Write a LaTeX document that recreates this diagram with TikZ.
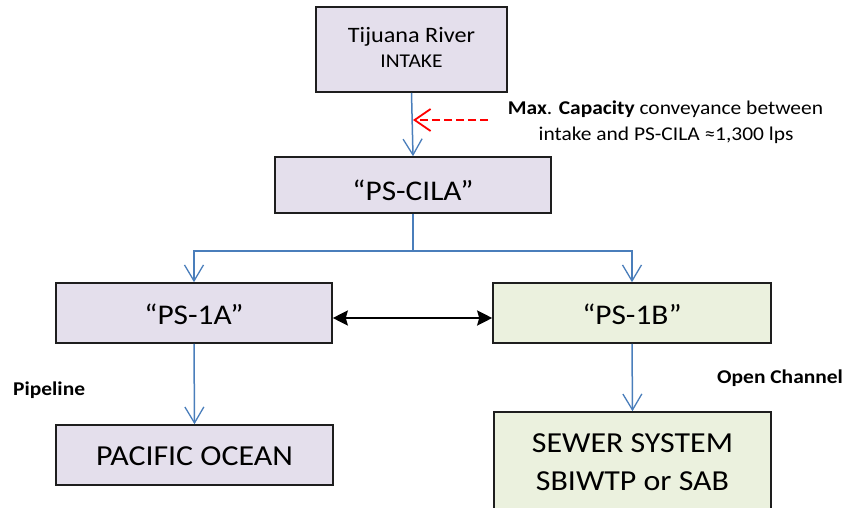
\documentclass[tikz,border=0pt]{standalone}
\usepackage{fontspec}
\setmainfont{Carlito}[FakeStretch=1.1]
\usetikzlibrary{arrows.meta}
\definecolor{boxpurple}{HTML}{E4DFEC}
\definecolor{boxgreen}{HTML}{EBF1DE}
\definecolor{flowblue}{HTML}{4A7EBB}
\definecolor{edgegray}{HTML}{1E1E1E}
\newcommand{\fs}[1]{\fontsize{#1}{#1}\selectfont}
\tikzset{
  box/.style={draw=edgegray, line width=1.6pt, inner sep=0pt, align=center},
  pbox/.style={box, fill=boxpurple},
  gbox/.style={box, fill=boxgreen},
  txt/.style={anchor=base, inner sep=0pt},
  flow/.style={draw=flowblue, line width=1.5pt, -{Straight Barb[length=16pt,width=19pt,line width=1.3pt]}},
  flowline/.style={draw=flowblue, line width=1.5pt},
  link/.style={draw=black, line width=2.4pt, {Stealth[length=15pt,width=15pt,inset=2pt]}-{Stealth[length=15pt,width=15pt,inset=2pt]}},
  note/.style={draw=red, line width=2pt, dash pattern=on 8pt off 4pt, -{Straight Barb[length=16pt,width=22pt,line width=1.8pt]}},
  lbl/.style={inner sep=0pt, font=\bfseries\fs{19.5}},
}
\begin{document}
\begin{tikzpicture}[x=1pt,y=-1pt]
\clip (0,0) rectangle (843,508);
\useasboundingbox (0,0) rectangle (843,508);
% boxes
\node[pbox, minimum width=191pt, minimum height=85pt] (intake) at (411.5,49.5) {};
\node[txt, font=\fs{22}] (intakeA) at (411.5,42.7) {Tijuana River};
\node[txt, font=\fs{19.5}] (intakeB) at (411.5,67.7) {INTAKE};
\node[pbox, minimum width=276pt, minimum height=56pt] (cila) at (413,185) {};
\node[txt, font=\fs{28.5}] (cilaT) at (413,200) {“PS-CILA”};
\node[pbox, minimum width=276pt, minimum height=60pt] (ps1a) at (194,313) {};
\node[txt, font=\fs{28.5}] (ps1aT) at (194,324) {“PS-1A{\char"0022}};
\node[gbox, minimum width=278pt, minimum height=60pt] (ps1b) at (632,313) {};
\node[txt, font=\fs{28.5}] (ps1bT) at (632,324) {“PS-1B”};
\node[pbox, minimum width=277pt, minimum height=60pt] (pacific) at (194.5,455) {};
\node[txt, font=\fs{29}] (pacificT) at (194.5,465) {PACIFIC OCEAN};
\node[gbox, minimum width=277pt, minimum height=100pt] (sewer) at (632.5,462) {};
\node[txt, font=\fs{29}] (sewerA) at (632.5,452) {SEWER SYSTEM};
\node[txt, font=\fs{29}] (sewerB) at (632.5,490) {SBIWTP or SAB};
% labels
\node[txt, font=\fs{19.5}] (noteA) at (665.5,115) {\textbf{Max}. \textbf{Capacity} conveyance between};
\node[txt, font=\fs{19.5}] (noteB) at (666,140) {intake and PS-CILA ≈1,300 lps};
\node[lbl, anchor=base west] (pipe) at (13,395) {Pipeline};
\node[lbl, anchor=base west] (open) at (717,383) {Open Channel};
% connectors
\coordinate (split) at (413,251);
\coordinate (redstart) at (488,120);
\coordinate (redend) at (413,120);
\draw[flow] (intake.south) -- (cila.north);
\draw[flowline] (cila.south) -- (split);
\draw[flow] (split) -| (ps1a.north);
\draw[flow] (split) -| (ps1b.north);
\draw[flow] (ps1a.south) -- (pacific.north);
\draw[flow] (ps1b.south) -- (sewer.north);
\draw[link] ([yshift=-5pt]ps1a.east) -- ([yshift=-5pt]ps1b.west);
\draw[note] (redstart) -- (redend);
\end{tikzpicture}
\end{document}
